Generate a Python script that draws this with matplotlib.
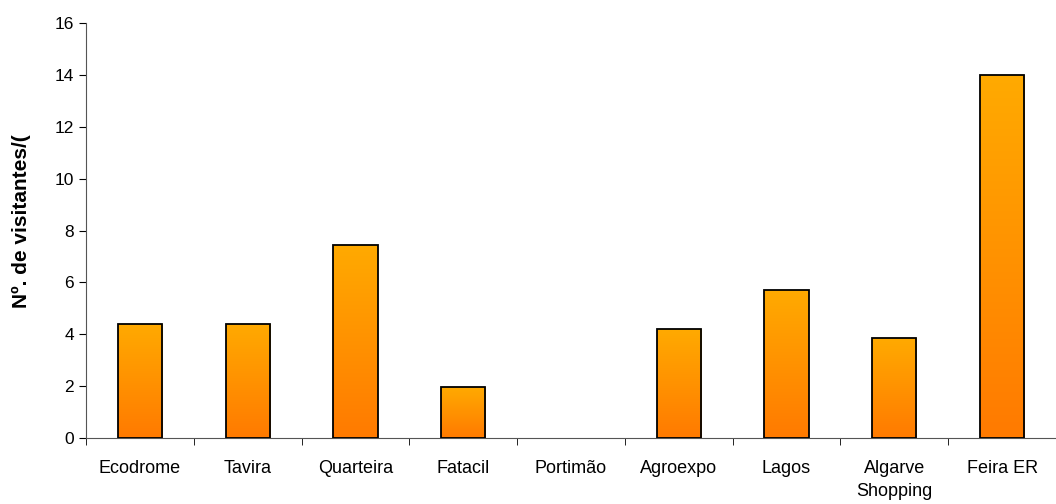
import numpy as np
import matplotlib.pyplot as plt
from matplotlib.colors import LinearSegmentedColormap

plt.rcParams['font.family'] = ['Liberation Sans', 'DejaVu Sans']

locais = ['Ecodrome', 'Tavira', 'Quarteira', 'Fatacil', 'Portimão',
          'Agroexpo', 'Lagos', 'Algarve\nShopping', 'Feira ER']
visitantes = [4.4, 4.4, 7.45, 1.95, 0.0, 4.2, 5.7, 3.85, 14.0]
y_ticks = [0, 2, 4, 6, 8, 10, 12, 14, 16]

fig = plt.figure(figsize=(10.56, 5.04), dpi=100)
ax = fig.add_axes([0.0814, 0.131, 0.9186, 0.823])

x = np.arange(len(locais))
largura = 0.41
barras = ax.bar(x, visitantes, width=largura, color='none',
                edgecolor='black', linewidth=1.3, zorder=3)

# gradiente laranja (mais claro em cima)
grad = LinearSegmentedColormap.from_list('laranja', ['#ff7a00', '#ffaa00'])
fundo = np.linspace(0, 1, 256).reshape(-1, 1)
for b in barras:
    h = b.get_height()
    if h <= 0:
        b.set_visible(False)
        continue
    x0 = b.get_x()
    im = ax.imshow(fundo, cmap=grad, origin='lower', aspect='auto',
                   extent=[x0, x0 + b.get_width(), 0, h], zorder=2)
    im.set_clip_path(b)

ax.set_xlim(-0.5, len(locais) - 0.5)
ax.set_ylim(0, 16)
ax.set_yticks(y_ticks)
ax.set_xticks(x)
ax.set_xticklabels(locais, linespacing=1.45)
ax.set_xticks(np.arange(len(locais)) - 0.5, minor=True)
ax.tick_params(axis='x', which='major', length=0, pad=16, labelsize=13)
ax.tick_params(axis='x', which='minor', length=5, direction='out')
ax.tick_params(axis='y', length=5, direction='out', labelsize=12.5)

for lado in ['top', 'right']:
    ax.spines[lado].set_visible(False)
for lado in ['left', 'bottom']:
    ax.spines[lado].set_color('#555555')

ax.set_ylabel('Nº. de visitantes/(', fontsize=15, fontweight='bold')
ax.yaxis.set_label_coords(-0.057, 0.523)

fig.savefig('out.png', dpi=100)
